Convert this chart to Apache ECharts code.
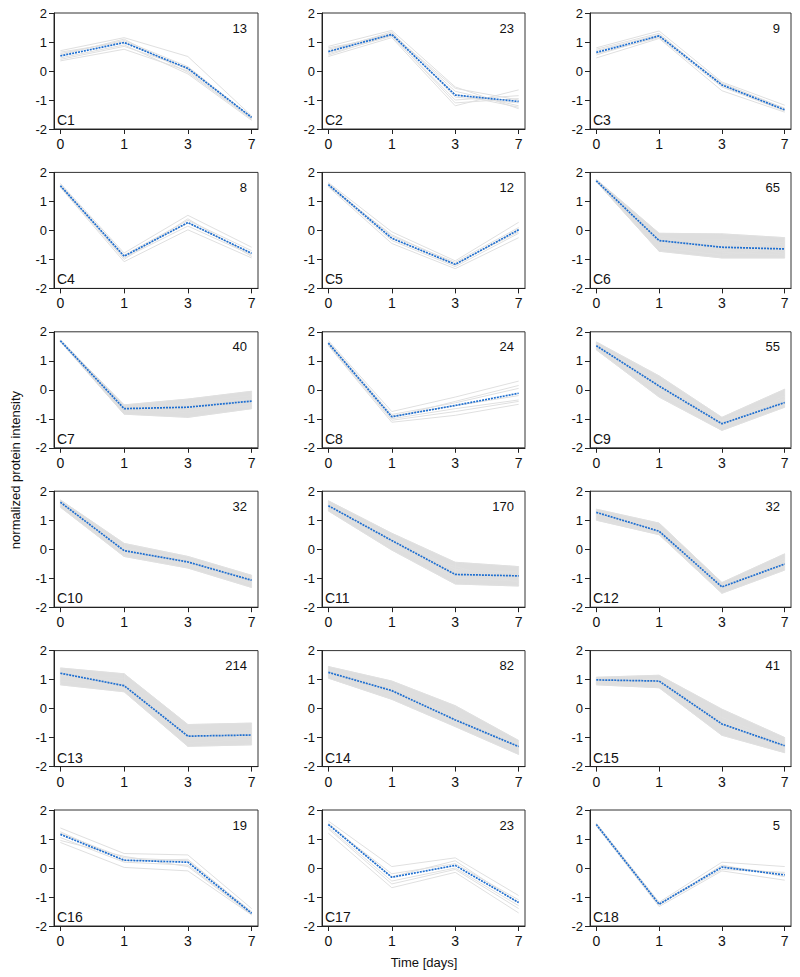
<!DOCTYPE html>
<html>
<head>
<meta charset="utf-8">
<script src="https://cdn.jsdelivr.net/npm/echarts@6/dist/echarts.min.js"></script>
<style>
  html, body { margin: 0; padding: 0; background: #fff; }
  #chart { width: 800px; height: 977px; }
</style>
</head>
<body>
<div id="chart"></div>
<script>
// ---------- data ----------
const timeLabels = ['0', '1', '3', '7'];
const clusterNames = ['C1','C2','C3','C4','C5','C6','C7','C8','C9','C10','C11','C12','C13','C14','C15','C16','C17','C18'];
const clusterCounts = [13, 23, 9, 8, 12, 65, 40, 24, 55, 32, 170, 32, 214, 82, 41, 19, 23, 5];
const yTicks = [-2, -1, 0, 1, 2];

const meanProfiles = [
  [0.52, 0.98, 0.09, -1.60],
  [0.67, 1.26, -0.83, -1.05],
  [0.64, 1.21, -0.48, -1.34],
  [1.54, -0.89, 0.27, -0.79],
  [1.58, -0.27, -1.17, 0.02],
  [1.71, -0.35, -0.58, -0.64],
  [1.69, -0.65, -0.60, -0.39],
  [1.61, -0.93, -0.54, -0.12],
  [1.52, 0.13, -1.17, -0.44],
  [1.62, -0.05, -0.44, -1.07],
  [1.50, 0.30, -0.87, -0.92],
  [1.27, 0.62, -1.30, -0.51],
  [1.22, 0.79, -0.95, -0.91],
  [1.25, 0.62, -0.39, -1.31],
  [0.99, 0.95, -0.53, -1.28],
  [1.16, 0.27, 0.20, -1.56],
  [1.50, -0.32, 0.09, -1.19],
  [1.50, -1.25, 0.03, -0.24]
];

const c1Members = [[0.70,1.15,0.50,-1.55],[0.35,0.75,0.00,-1.65],[0.60,1.05,0.15,-1.60],[0.45,0.90,-0.10,-1.70],[0.65,1.00,0.05,-1.58],[0.40,0.85,0.10,-1.62],[0.55,1.10,-0.05,-1.66]];
const c2Members = [[0.85,1.40,-0.55,-1.30],[0.50,1.15,-1.20,-0.65],[0.75,1.30,-0.70,-1.20],[0.60,1.20,-1.00,-0.85],[0.70,1.35,-0.90,-1.10],[0.55,1.25,-0.80,-1.25],[0.80,1.22,-1.10,-0.95],[0.65,1.28,-0.60,-1.00]];
const c3Members = [[0.80,1.38,-0.38,-1.18],[0.45,1.12,-0.68,-1.42],[0.70,1.25,-0.45,-1.30],[0.60,1.15,-0.55,-1.38],[0.75,1.30,-0.50,-1.35],[0.55,1.20,-0.42,-1.28]];
const c4Members = [[1.62,-0.78,0.52,-0.58],[1.48,-1.08,0.02,-0.95],[1.55,-0.85,0.35,-0.70],[1.50,-0.95,0.15,-0.85],[1.58,-0.90,0.25,-0.80],[1.52,-1.00,0.40,-0.90]];
const c5Members = [[1.65,-0.05,-1.05,0.28],[1.50,-0.45,-1.32,-0.25],[1.60,-0.20,-1.10,0.10],[1.55,-0.35,-1.25,-0.10],[1.62,-0.28,-1.20,0.05],[1.52,-0.15,-1.15,-0.05]];
const c6Members = [[1.76,-0.10,-0.12,-0.25],[1.68,-0.72,-0.95,-0.95],[1.72,-0.30,-0.40,-0.80],[1.70,-0.50,-0.70,-0.40],[1.74,-0.20,-0.55,-0.70],[1.69,-0.60,-0.85,-0.60],[1.73,-0.40,-0.30,-0.50],[1.71,-0.25,-0.75,-0.85]];
const c7Members = [[1.72,-0.52,-0.32,-0.05],[1.66,-0.84,-0.95,-0.65],[1.70,-0.60,-0.50,-0.30],[1.68,-0.75,-0.70,-0.55],[1.69,-0.55,-0.80,-0.45],[1.71,-0.70,-0.45,-0.20],[1.67,-0.65,-0.60,-0.60]];
const c8Members = [[1.70,-0.75,-0.25,0.30],[1.52,-1.12,-0.88,-0.50],[1.65,-0.85,-0.45,0.05],[1.58,-1.00,-0.65,-0.35],[1.62,-0.90,-0.55,-0.20],[1.60,-0.95,-0.40,0.15],[1.55,-1.05,-0.75,-0.40]];
const c9Members = [[1.65,0.48,-0.95,0.02],[1.38,-0.25,-1.40,-0.60],[1.55,0.30,-1.05,-0.30],[1.45,0.00,-1.25,-0.50],[1.60,0.20,-1.15,-0.40],[1.50,-0.10,-1.30,-0.20],[1.48,0.10,-1.10,-0.55]];
const c10Members = [[1.70,0.20,-0.25,-0.90],[1.45,-0.25,-0.65,-1.32],[1.60,0.05,-0.35,-1.00],[1.55,-0.10,-0.55,-1.20],[1.65,-0.15,-0.45,-1.05],[1.58,0.00,-0.50,-1.15]];
const c11Members = [[1.67,0.55,-0.45,-0.60],[1.32,-0.03,-1.20,-1.27],[1.55,0.40,-0.70,-0.80],[1.45,0.15,-1.00,-1.10],[1.60,0.25,-0.85,-0.95],[1.40,0.35,-0.95,-0.75],[1.50,0.05,-0.60,-1.15]];
const c12Members = [[1.38,0.90,-1.15,-0.16],[1.00,0.50,-1.52,-0.72],[1.30,0.65,-1.25,-0.40],[1.20,0.58,-1.40,-0.60],[1.25,0.70,-1.30,-0.50],[1.05,0.55,-1.35,-0.30]];
const c13Members = [[1.40,1.20,-0.55,-0.50],[0.82,0.58,-1.30,-1.25],[1.30,0.90,-0.80,-1.10],[1.10,1.05,-1.10,-0.70],[1.20,0.70,-1.00,-0.95],[0.95,0.80,-1.20,-1.05],[1.25,0.65,-0.70,-0.85]];
const c14Members = [[1.45,0.95,0.10,-1.10],[1.05,0.32,-0.62,-1.58],[1.35,0.75,-0.20,-1.25],[1.15,0.50,-0.50,-1.40],[1.28,0.60,-0.30,-1.20],[1.20,0.40,-0.45,-1.50],[1.30,0.85,-0.35,-1.35]];
const c15Members = [[1.08,1.15,-0.02,-1.00],[0.82,0.72,-0.92,-1.52],[1.00,1.00,-0.30,-1.20],[0.95,0.85,-0.70,-1.35],[1.02,0.95,-0.50,-1.10],[0.90,1.05,-0.60,-1.45]];
const c16Members = [[1.38,0.50,0.45,-1.40],[0.88,0.02,-0.10,-1.62],[1.20,0.35,0.25,-1.50],[1.05,0.20,0.10,-1.58],[1.25,0.25,0.30,-1.55],[0.95,0.40,0.05,-1.60]];
const c17Members = [[1.62,0.05,0.35,-0.95],[1.20,-0.68,-0.15,-1.55],[1.50,-0.20,0.15,-1.10],[1.40,-0.45,0.00,-1.30],[1.55,-0.30,0.25,-1.20],[1.35,-0.55,-0.05,-1.40]];
const c18Members = [[1.55,-1.18,0.20,0.05],[1.45,-1.33,-0.10,-0.42],[1.50,-1.22,0.05,-0.20],[1.52,-1.28,0.10,-0.30],[1.48,-1.25,-0.05,-0.15]];

const memberProfiles = [c1Members,c2Members,c3Members,c4Members,c5Members,c6Members,c7Members,c8Members,c9Members,
  c10Members,c11Members,c12Members,c13Members,c14Members,c15Members,c16Members,c17Members,c18Members];

// ---------- layout / style ----------
const FONT = '"Liberation Sans", Arial, sans-serif';
const colLeft = [54, 322, 590];
const colWidth = [204, 203, 201];
const rowTop = [13, 172.4, 331.8, 491.2, 650.6, 810];
const boxH = 116;
const GRAY_LINE = '#e0e0e0';
const GRAY_BAND = '#dedede';
const BLUE = '#1f6fd0';

const grids = [], xAxes = [], yAxes = [], series = [], graphics = [];

const toXY = arr => arr.map((v, k) => [k, v]);

clusterNames.forEach((name, i) => {
  const r = Math.floor(i / 3), c = i % 3;
  const left = colLeft[c], top = rowTop[r], w = colWidth[c];
  grids.push({ left, top, width: w, height: boxH, show: true, borderColor: '#333', borderWidth: 1, backgroundColor: 'transparent' });
  xAxes.push({
    gridIndex: i, type: 'value', min: -0.1, max: 3.1,
    axisLine: { show: true, onZero: false, lineStyle: { color: '#222', width: 1 } },
    axisTick: { show: true, length: 5, customValues: [0, 1, 2, 3], lineStyle: { color: '#222' } },
    axisLabel: { customValues: [0, 1, 2, 3], formatter: v => timeLabels[Math.round(v)], margin: 8,
      fontFamily: FONT, fontSize: 14, color: '#111' },
    splitLine: { show: false }
  });
  yAxes.push({
    gridIndex: i, type: 'value', min: -2, max: 2, interval: 1,
    axisLine: { show: true, onZero: false, lineStyle: { color: '#222', width: 1 } },
    axisTick: { show: true, length: 5, lineStyle: { color: '#222' } },
    axisLabel: { margin: 7, fontFamily: FONT, fontSize: 13, color: '#111' },
    splitLine: { show: false }
  });

  const members = memberProfiles[i];
  if (clusterCounts[i] >= 30) {
    const lo = [0, 1, 2, 3].map(k => Math.min(...members.map(m => m[k])));
    const hi = [0, 1, 2, 3].map(k => Math.max(...members.map(m => m[k])));
    const segs = [0, 1, 2].map(k => [k, lo[k], hi[k], lo[k + 1], hi[k + 1]]);
    series.push({
      type: 'custom', xAxisIndex: i, yAxisIndex: i, silent: true, z: 1,
      encode: { x: 0, y: [1, 2] },
      data: segs,
      renderItem: (params, api) => {
        const k = api.value(0);
        const p1 = api.coord([k, api.value(1)]);
        const p2 = api.coord([k + 1, api.value(3)]);
        const p3 = api.coord([k + 1, api.value(4)]);
        const p4 = api.coord([k, api.value(2)]);
        return {
          type: 'polygon',
          shape: { points: [p1, p2, p3, p4] },
          style: { fill: GRAY_BAND, stroke: GRAY_BAND, lineWidth: 0.6 }
        };
      }
    });
  }
  members.forEach(m => {
    series.push({
      type: 'line', xAxisIndex: i, yAxisIndex: i, data: toXY(m), symbol: 'none',
      lineStyle: { color: GRAY_LINE, width: 1 }, silent: true, z: 2
    });
  });
  series.push({
    type: 'line', xAxisIndex: i, yAxisIndex: i, data: toXY(meanProfiles[i]), symbol: 'none',
    lineStyle: { color: BLUE, width: 1.7, type: [2, 1] }, silent: true, z: 5
  });

  graphics.push({
    type: 'text', x: left + w - 11, y: top + 15,
    style: { text: String(clusterCounts[i]), fill: '#111', font: '13px ' + FONT, textAlign: 'right', textVerticalAlign: 'middle' },
    z: 10
  });
  graphics.push({
    type: 'text', x: left + 3, y: top + boxH - 9,
    style: { text: name, fill: '#111', font: '14px ' + FONT, textAlign: 'left', textVerticalAlign: 'middle' },
    z: 10
  });
});

graphics.push({
  type: 'text', x: 15, y: 470, rotation: Math.PI / 2,
  style: { text: 'normalized protein intensity', fill: '#111', font: '13px ' + FONT, textAlign: 'center', textVerticalAlign: 'middle' }
});
graphics.push({
  type: 'text', x: 424, y: 962,
  style: { text: 'Time [days]', fill: '#111', font: '13px ' + FONT, textAlign: 'center', textVerticalAlign: 'middle' }
});

const chart = echarts.init(document.getElementById('chart'), null, { renderer: 'svg', width: 800, height: 977 });
chart.setOption({
  animation: false,
  backgroundColor: '#fff',
  grid: grids,
  xAxis: xAxes,
  yAxis: yAxes,
  series: series,
  graphic: graphics
});
</script>
</body>
</html>
